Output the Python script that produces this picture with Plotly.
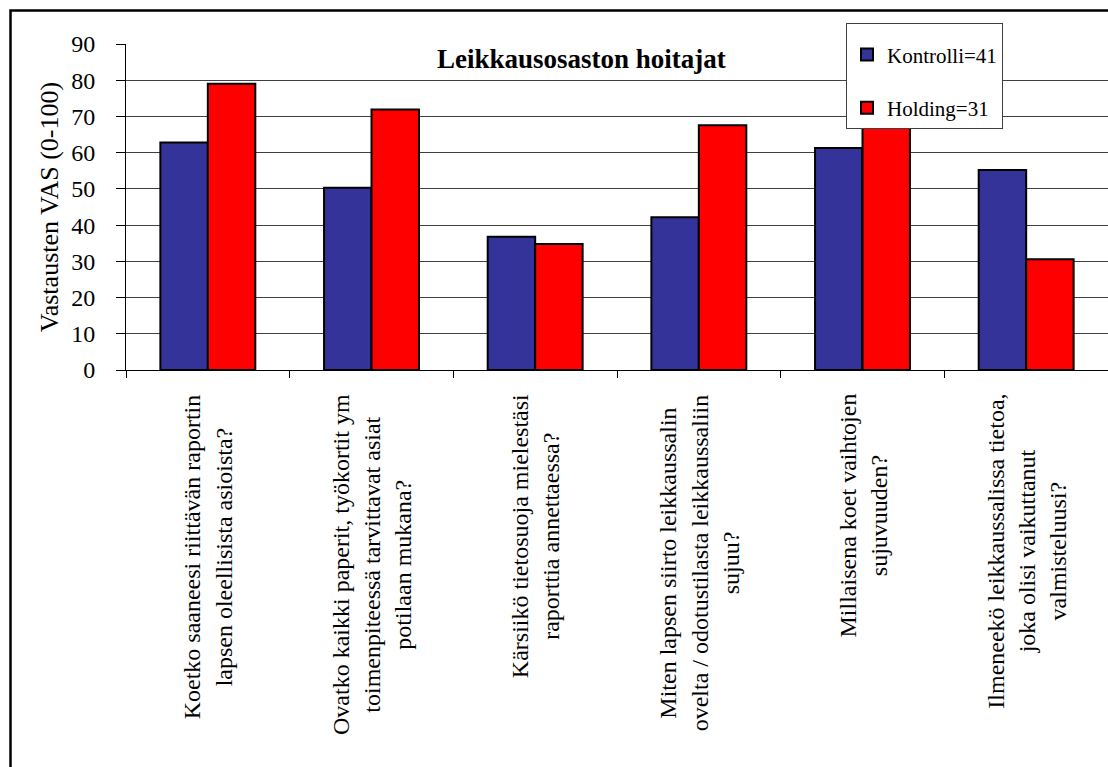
import plotly.graph_objects as go

categories = [
    "Koetko saaneesi riittävän raportin<br>lapsen oleellisista asioista?",
    "Ovatko kaikki paperit, työkortit ym<br>toimenpiteessä tarvittavat asiat<br>potilaan mukana?",
    "Kärsiikö tietosuoja mielestäsi<br>raporttia annettaessa?",
    "Miten lapsen siirto leikkaussalin<br>ovelta / odotustilasta leikkaussaliin<br>sujuu?",
    "Millaisena koet vaihtojen<br>sujuvuuden?",
    "Ilmeneekö leikkaussalissa tietoa,<br>joka olisi vaikuttanut<br>valmisteluusi?",
]
kontrolli = [62.8, 50.3, 36.8, 42.2, 61.3, 55.2]
holding = [79.0, 71.9, 34.8, 67.6, 70.0, 30.6]
y_ticks = [0, 10, 20, 30, 40, 50, 60, 70, 80, 90]

FONT = "Liberation Serif"
W, H = 1108, 767
L, R, T, B = 126, 0, 44, 397
pw = W - L - R
ph = H - T - B

def px_x(px):
    return (px - L) / pw

def px_y(py):
    return (H - B - py) / ph

fig = go.Figure()
fig.add_trace(go.Bar(
    x=categories, y=kontrolli, name="Kontrolli=41", legendgroup="k",
    marker=dict(color="#333399", line=dict(color="black", width=2)),
))
fig.add_trace(go.Bar(
    x=categories, y=holding, name="Holding=31", legendgroup="h",
    marker=dict(color="#FF0000", line=dict(color="black", width=2)),
))

annotations = []
for c in categories:
    annotations.append(dict(
        x=c, xref="x", y=px_y(392), yref="paper",
        text=c, textangle=-90, showarrow=False,
        xanchor="center", yanchor="top", align="center",
        font=dict(family=FONT, size=24, color="black"),
    ))
annotations.append(dict(
    x=px_x(581), xref="paper", y=px_y(59), yref="paper",
    text="<b>Leikkausosaston hoitajat</b>", showarrow=False,
    xanchor="center", yanchor="middle",
    font=dict(family=FONT, size=27, color="black"),
))

fig.update_layout(
    width=W, height=H,
    margin=dict(l=L, r=R, t=T, b=B, autoexpand=False),
    paper_bgcolor="white", plot_bgcolor="white",
    barmode="group", bargap=0.42, bargroupgap=0,
    font=dict(family=FONT, color="black"),
    showlegend=True,
    legend=dict(
        x=px_x(846), xanchor="left", y=px_y(23), yanchor="top",
        bgcolor="white", bordercolor="#404040", borderwidth=1,
        font=dict(family=FONT, size=21, color="black"),
        tracegroupgap=23, traceorder="grouped",
        title=dict(text=" ", font=dict(family=FONT, size=8)),
    ),
    annotations=annotations,
    shapes=[dict(
        type="rect", xref="paper", yref="paper",
        x0=px_x(10.5), x1=px_x(1200), y0=px_y(900), y1=px_y(10.5),
        line=dict(color="black", width=2.5), fillcolor="rgba(0,0,0,0)",
        layer="above",
    )],
)

fig.update_xaxes(
    type="category", showticklabels=False,
    showline=True, linecolor="black", linewidth=1,
    ticks="outside", tickson="boundaries", ticklen=7, tickcolor="black",
    showgrid=False,
)
fig.update_yaxes(
    range=[0, 90], tickvals=y_ticks, ticktext=[str(v) for v in y_ticks],
    showline=True, linecolor="black", linewidth=1,
    ticks="outside", ticklen=9, tickcolor="black",
    tickfont=dict(family=FONT, size=24, color="black"),
    ticklabelstandoff=16,
    showgrid=True, gridcolor="#404040", gridwidth=1,
    zeroline=False,
    title=dict(text="Vastausten VAS (0-100)", standoff=5,
               font=dict(family=FONT, size=26, color="black")),
)

fig.write_html("out.html")
